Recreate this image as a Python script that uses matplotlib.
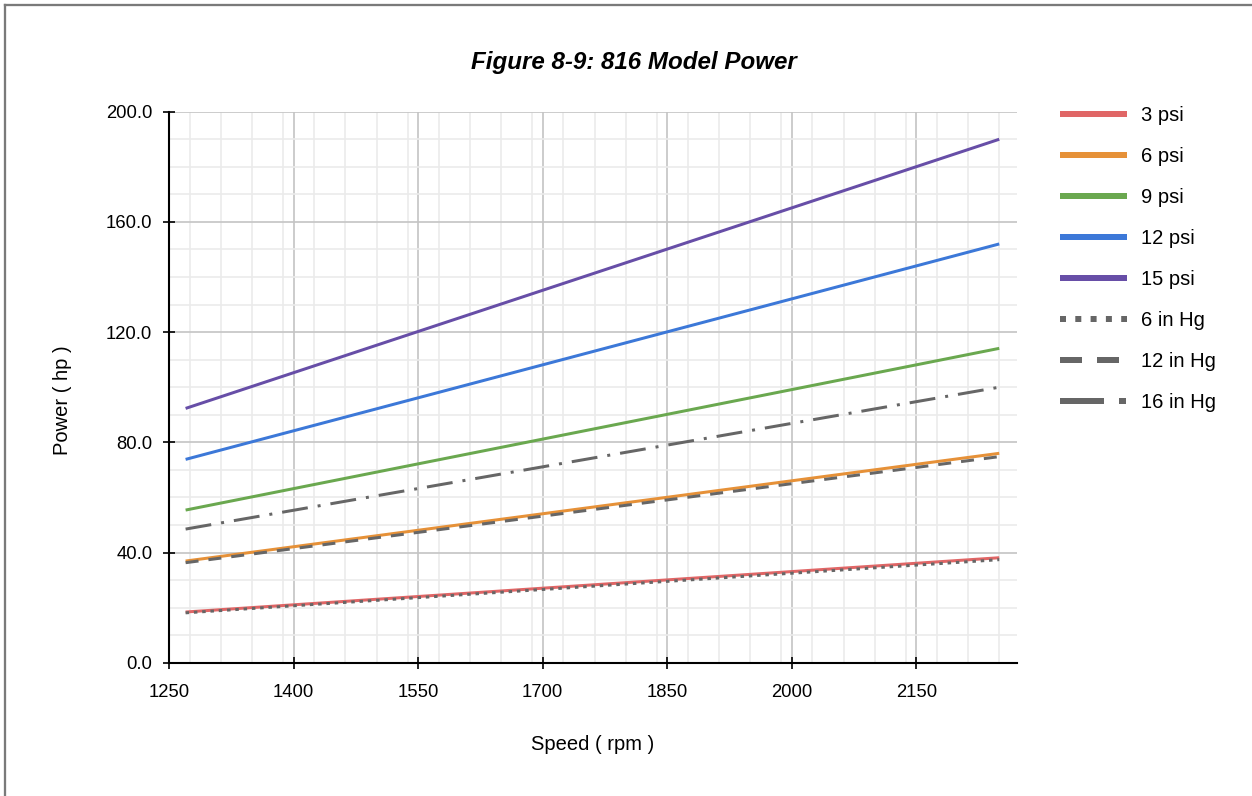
import matplotlib
matplotlib.use("Agg")
import matplotlib.pyplot as plt
from matplotlib.lines import Line2D
from matplotlib.ticker import MultipleLocator, FormatStrFormatter

plt.rcParams['font.family'] = ['Liberation Sans', 'DejaVu Sans']
plt.rcParams['lines.scale_dashes'] = False

# ---- data ----
speed = [1270, 2250]
series_names = ["3 psi", "6 psi", "9 psi", "12 psi", "15 psi", "6 in Hg", "12 in Hg", "16 in Hg"]
p_3psi = [18.4, 38.1]
p_6psi = [36.9, 76.0]
p_9psi = [55.4, 114.1]
p_12psi = [73.8, 152.0]
p_15psi = [92.3, 190.0]
p_6inhg = [18.1, 37.4]
p_12inhg = [36.3, 74.8]
p_16inhg = [48.5, 100.0]
values = [p_3psi, p_6psi, p_9psi, p_12psi, p_15psi, p_6inhg, p_12inhg, p_16inhg]

x_ticks = [1250, 1400, 1550, 1700, 1850, 2000, 2150]
y_ticks = [0, 40, 80, 120, 160, 200]

colors = ["#e06666", "#e69138", "#6aa84f", "#3c78d8", "#674ea7", "#666666", "#666666", "#666666"]
PX = 0.72  # points per pixel at dpi 100
plot_dashes = [None, None, None, None, None,
               (0, (3.5 * PX, 4.8 * PX)),
               (0, (13 * PX, 10 * PX)),
               (0, (26 * PX, 10 * PX, 3 * PX, 10 * PX))]
legend_dashes = [None, None, None, None, None,
                 (0, (6 * PX, 9.3 * PX)),
                 (0, (22 * PX, 15 * PX)),
                 (0, (44 * PX, 15 * PX, 7 * PX, 15 * PX))]

W, H = 1252, 796
fig = plt.figure(figsize=(W / 100, H / 100), dpi=100)
ax = fig.add_axes([169 / W, 1 - 662.7 / H, (1016.7 - 169) / W, (662.7 - 111.7) / H])

for name, vals, c, d in zip(series_names, values, colors, plot_dashes):
    kw = dict(color=c, lw=3 * PX, solid_capstyle='butt', dash_capstyle='butt')
    if d is not None:
        kw['linestyle'] = d
    ax.plot(speed, vals, label=name, **kw)

ax.set_xlim(1250, 2271)
ax.set_ylim(0, 200)
ax.set_xticks(x_ticks)
ax.set_yticks(y_ticks)
ax.xaxis.set_minor_locator(MultipleLocator(37.5))
ax.yaxis.set_minor_locator(MultipleLocator(10))
ax.yaxis.set_major_formatter(FormatStrFormatter('%.1f'))
ax.grid(which='major', color='#c4c4c4', lw=1.2)
ax.grid(which='minor', color='#ebebeb', lw=1.2)
ax.set_axisbelow(True)
for s in ['top', 'right']:
    ax.spines[s].set_visible(False)
for s in ['left', 'bottom']:
    ax.spines[s].set_color('black')
    ax.spines[s].set_linewidth(1.5)
ax.tick_params(which='major', direction='inout', length=8, width=1.2, colors='black',
               labelsize=13.3, pad=8)
ax.tick_params(which='minor', length=0)
ax.tick_params(axis='x', pad=11)

fig.text(592.5 / W, 1 - 745 / H, "Speed ( rpm )", ha='center', va='center', fontsize=14.5)
fig.text(63 / W, 1 - 400 / H, "Power ( hp )", ha='center', va='center', fontsize=14.5,
         rotation=90)

fig.text(633.5 / W, 1 - 62 / H, "Figure 8-9: 816 Model Power", ha='center', va='center',
         fontsize=17.4, fontweight='bold', fontstyle='italic')

handles = []
for name, c, d in zip(series_names, colors, legend_dashes):
    kw = dict(color=c, lw=6 * PX, solid_capstyle='butt', dash_capstyle='butt')
    if d is not None:
        kw['linestyle'] = d
    handles.append(Line2D([], [], **kw))
fs_leg = 14.5
fs_px = fs_leg / PX
fig.legend(handles, series_names, loc='upper left',
           bbox_to_anchor=(1060 / W, 1 - 106 / H), frameon=False,
           fontsize=fs_leg, handlelength=67 / fs_px, handletextpad=14 / fs_px,
           labelspacing=1.095, borderpad=0, borderaxespad=0)

# page border (left and top)
fig.add_artist(Line2D([5.3 / W, 5.3 / W], [0, 1 - 4.5 / H], color='#7a7a7a', lw=2.3 * PX,
                      transform=fig.transFigure))
fig.add_artist(Line2D([5.3 / W, 1], [1 - 4.5 / H, 1 - 4.5 / H], color='#7a7a7a', lw=2.3 * PX,
                      transform=fig.transFigure))

fig.savefig("out.png", dpi=100)
